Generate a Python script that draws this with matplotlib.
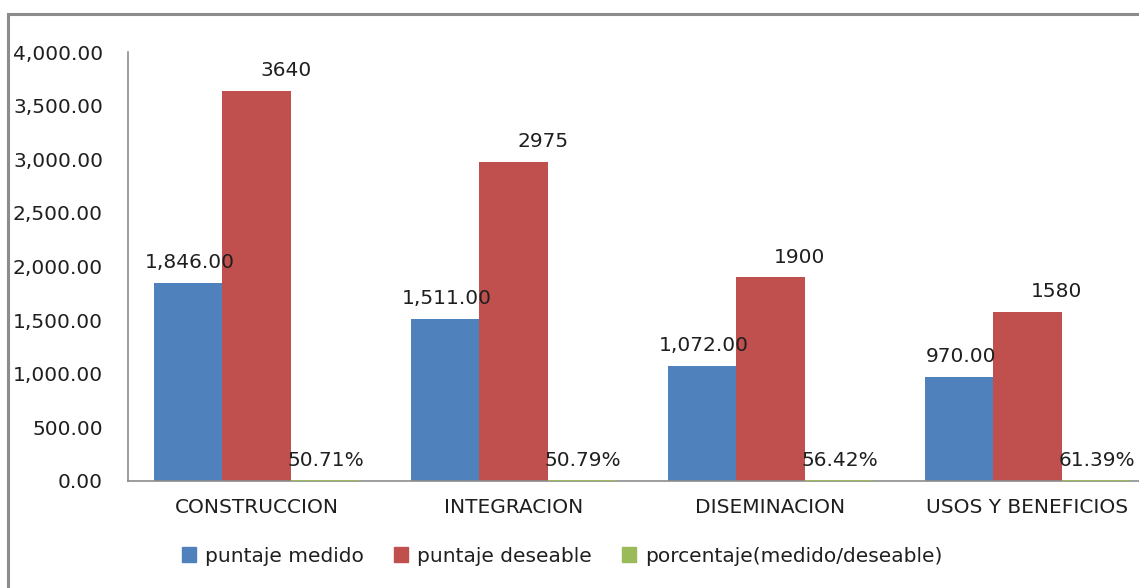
import matplotlib
matplotlib.use("Agg")
import matplotlib.pyplot as plt
from matplotlib.patches import Rectangle, Patch
from matplotlib.ticker import FuncFormatter, MultipleLocator
import numpy as np

categories = ["CONSTRUCCION", "INTEGRACION", "DISEMINACION", "USOS Y BENEFICIOS"]
puntaje_medido = [1846.00, 1511.00, 1072.00, 970.00]
puntaje_deseable = [3640, 2975, 1900, 1580]
porcentaje = [0.5071, 0.5079, 0.5642, 0.6139]
series_names = ["puntaje medido", "puntaje deseable", "porcentaje(medido/deseable)"]

BLUE = "#4F81BD"
RED = "#C0504D"
GREEN = "#9BBB59"
GRAY = "#8C8C8C"
TEXT = "#1F1F1F"

plt.rcParams["font.family"] = ["DejaVu Sans"]

W, H = 1139, 588
fig = plt.figure(figsize=(W / 100, H / 100), dpi=100)

# outer chart frame (open to the right and bottom)
fig.add_artist(Rectangle((8 / W, -0.1), 1.2, 1 - 14 / H + 0.1,
                         transform=fig.transFigure, fill=False,
                         edgecolor=GRAY, linewidth=2.2))

ax = fig.add_axes([128 / W, 1 - 481 / H, (1156 - 128) / W, (481 - 52) / H])

x = np.arange(len(categories))
bw = 0.266
b1 = ax.bar(x - bw, puntaje_medido, bw, color=BLUE, label=series_names[0])
b2 = ax.bar(x, puntaje_deseable, bw, color=RED, label=series_names[1])
# the ratio series is tiny on this scale; an edge keeps it visible as a sliver
b3 = ax.bar(x + bw, porcentaje, bw, color=GREEN, edgecolor=GREEN,
            linewidth=1.3, label=series_names[2], zorder=4)

fs = 14.5
for rect, v in zip(b1, puntaje_medido):
    ax.annotate(f"{v:,.2f}", (rect.get_x() + rect.get_width() / 2, v),
                xytext=(1.5, 15), textcoords="offset points",
                ha="center", va="center", fontsize=fs, color=TEXT)
for rect, v in zip(b2, puntaje_deseable):
    ax.annotate(f"{v}", (rect.get_x() + rect.get_width() / 2, v),
                xytext=(21, 14.5), textcoords="offset points",
                ha="center", va="center", fontsize=fs, color=TEXT)
for rect, v in zip(b3, porcentaje):
    ax.annotate(f"{v * 100:.2f}%", (rect.get_x() + rect.get_width() / 2, v),
                xytext=(0.5, 14.5), textcoords="offset points",
                ha="center", va="center", fontsize=fs, color=TEXT)

ax.set_xlim(-0.5, len(categories) - 0.5)
ax.set_ylim(0, 4000)
ax.yaxis.set_major_locator(MultipleLocator(500))
ax.yaxis.set_major_formatter(FuncFormatter(lambda v, p: f"{v:,.2f}"))
ax.set_xticks(x)
ax.set_xticklabels(categories)
ax.tick_params(axis="y", length=0, pad=18, labelsize=fs, labelcolor=TEXT)
ax.tick_params(axis="x", length=0, pad=12, labelsize=fs, labelcolor=TEXT)

for side in ("top", "right"):
    ax.spines[side].set_visible(False)
for side in ("left", "bottom"):
    ax.spines[side].set_color(GRAY)
    ax.spines[side].set_linewidth(1.2)

handles = [Patch(color=BLUE), Patch(color=RED), Patch(color=GREEN)]
fig.legend(handles, series_names, loc="center", ncol=3,
           bbox_to_anchor=(562 / W, 1 - 556 / H), frameon=False,
           fontsize=fs, handlelength=0.7, handleheight=0.7,
           handletextpad=0.45, columnspacing=1.5, labelcolor=TEXT)

fig.savefig("out.png", dpi=100, facecolor="white")
